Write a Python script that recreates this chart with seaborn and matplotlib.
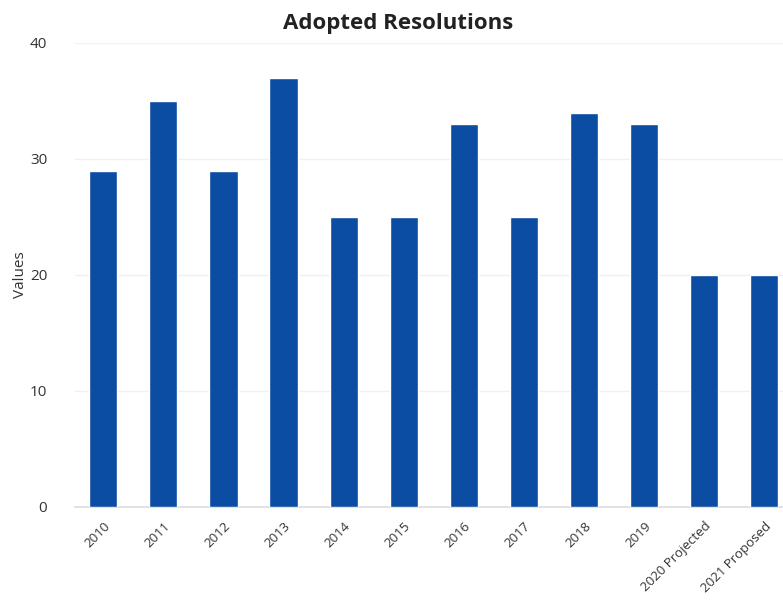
import matplotlib
matplotlib.use("Agg")
import matplotlib.pyplot as plt
import seaborn as sns
import pandas as pd

categories = ["2010", "2011", "2012", "2013", "2014", "2015", "2016", "2017",
              "2018", "2019", "2020 Projected", "2021 Proposed"]
values = [29, 35, 29, 37, 25, 25, 33, 25, 34, 33, 20, 20]
yticks = [0, 10, 20, 30, 40]

sns.set_theme(style="white")
plt.rcParams['font.family'] = ['Open Sans', 'DejaVu Sans']

df = pd.DataFrame({"Year": categories, "Values": values})

fig = plt.figure(figsize=(7.83, 6.02), dpi=100)
ax = fig.add_axes([75/783, 1 - 507/602, (783 - 75)/783, (507 - 43)/602])

sns.barplot(data=df, x="Year", y="Values", color="#0b4da3", saturation=1,
            width=0.47, ax=ax, zorder=3)

ax.set_xlim(-0.47, 11.31)
ax.set_ylim(0, 40)
ax.set_yticks(yticks)
ax.set_yticklabels([str(t) for t in yticks], fontsize=11, color="#333333")
ax.yaxis.grid(True, color="#f0f0f0", linewidth=1)
ax.set_axisbelow(True)
for s in ["top", "right", "left"]:
    ax.spines[s].set_visible(False)
ax.spines["bottom"].set_color("#dddddd")
ax.tick_params(axis="y", length=0, pad=20)
ax.tick_params(axis="x", length=0, pad=9)
ax.set_xticks(range(len(categories)))
ax.set_xticklabels(categories, rotation=45, ha="right", rotation_mode="anchor",
                   fontsize=9.5, color="#333333")
ax.set_xlabel("")
ax.set_ylabel("Values", fontsize=11, color="#333333", labelpad=10)
ax.yaxis.set_label_coords(-0.066, 0.5)

fig.text(398/783, 1 - 23/602, "Adopted Resolutions", ha="center", va="center",
         fontsize=16, fontweight="bold", color="#222222")

fig.savefig("out.png", dpi=100)
